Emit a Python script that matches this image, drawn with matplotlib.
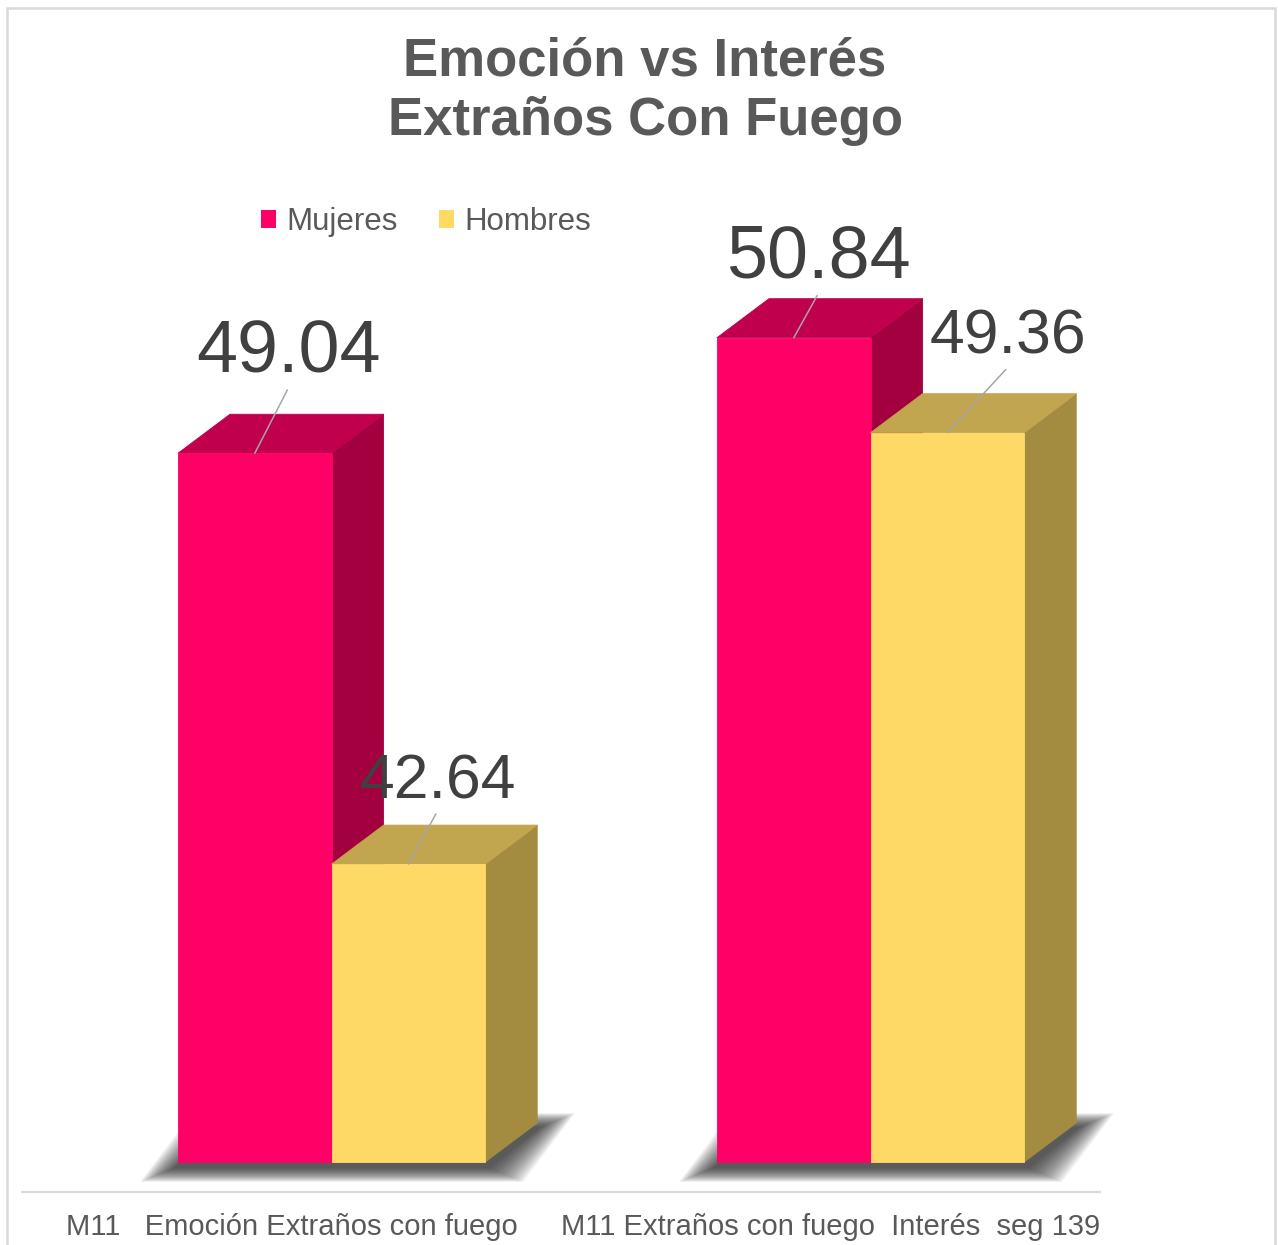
import matplotlib
matplotlib.use("Agg")
import matplotlib.pyplot as plt
import numpy as np
from matplotlib.patches import Polygon, Rectangle

# data
categories = ["M11   Emoción Extraños con fuego", "M11 Extraños con fuego  Interés  seg 139"]
series = ["Mujeres", "Hombres"]
mujeres = [49.04, 50.84]
hombres = [42.64, 49.36]
values = [mujeres, hombres]

# colours: front, top, side
colors = {
    "Mujeres": ("#FF0066", "#C0004D", "#A3003F"),
    "Hombres": ("#FFD966", "#C2A54F", "#A38B40"),
}

plt.rcParams['font.family'] = ['Liberation Sans', 'DejaVu Sans']

W_PX, H_PX = 1278, 1245
fig = plt.figure(figsize=(W_PX / 100, H_PX / 100), dpi=100)

# axes box in pixels (from top-left)
ax_left, ax_right, ax_top, ax_bottom = 22, 1100, 180, 1192
ax = fig.add_axes([ax_left / W_PX, 1 - ax_bottom / H_PX,
                   (ax_right - ax_left) / W_PX, (ax_bottom - ax_top) / H_PX])

floor = 38.0          # value axis minimum where bars stand
px_per_unit = 64.2    # vertical pixels per value unit
floor_px = 1162
ax.set_ylim(floor - (ax_bottom - floor_px) / px_per_unit,
            floor + (floor_px - ax_top) / px_per_unit)
ax.set_xlim(-0.5, 1.5)
XPX = (ax_right - ax_left) / 2.0

def px2x(p):
    return p / XPX

def px2y(p):
    return p / px_per_unit

bar_w = 0.285
shift = 0.0744
DX, DY = px2x(52), px2y(39)

# soft shadow under each pair of bars, built from many faint layers
for i in range(len(categories)):
    left = i + shift - bar_w
    right = i + shift + bar_w
    n = 30
    for t in np.linspace(0, 1, n):
        bx, by = px2x(4 + 34 * t), px2y(1 + 14 * t)
        oy = px2y(5)
        pts = [(left - bx, floor - oy - by),
               (right + bx, floor - oy - by),
               (right + DX + bx, floor + DY - oy + by),
               (left + DX - bx, floor + DY - oy + by)]
        ax.add_patch(Polygon(pts, closed=True, facecolor="#2a2a2a",
                             edgecolor="none", alpha=0.045, zorder=1,
                             clip_on=False))

# 3D bars
label_sizes = {"Mujeres": 53, "Hombres": 45}
label_offsets = {(0, 0): (34, 66), (0, 1): (29, 53),
                 (1, 0): (25, 45), (1, 1): (61, 66)}
for i in range(len(categories)):
    for s, name in enumerate(series):
        v = values[s][i]
        x0 = i + shift - bar_w + s * bar_w
        x1 = x0 + bar_w
        front, top, side = colors[name]
        ax.add_patch(Polygon([(x1, floor), (x1 + DX, floor + DY),
                              (x1 + DX, v + DY), (x1, v)],
                             facecolor=side, edgecolor=side, lw=0.6, zorder=2))
        ax.add_patch(Polygon([(x0, v), (x1, v), (x1 + DX, v + DY), (x0 + DX, v + DY)],
                             facecolor=top, edgecolor=top, lw=0.6, zorder=2))
        ax.add_patch(Polygon([(x0, floor), (x1, floor), (x1, v), (x0, v)],
                             facecolor=front, edgecolor=front, lw=0.6, zorder=2,
                             label=name if i == 0 else None))
        ox, oy = label_offsets[(i, s)]
        ax.annotate(f"{v:.2f}", xy=((x0 + x1) / 2, v), xytext=(ox, oy),
                    textcoords="offset pixels", ha="center", va="bottom",
                    fontsize=label_sizes[name], color="#404040", zorder=5,
                    arrowprops=dict(arrowstyle="-", color="#A6A6A6", lw=1.1,
                                    shrinkA=0, shrinkB=0, relpos=(0.5, 0)))

# axis styling
for sp in ["left", "right", "top"]:
    ax.spines[sp].set_visible(False)
ax.spines["bottom"].set_color("#D9D9D9")
ax.spines["bottom"].set_linewidth(1.6)
ax.set_yticks([])
ax.set_xticks(range(len(categories)))
ax.set_xticklabels(categories, fontsize=21, color="#595959")
ax.tick_params(axis="x", length=0, pad=15)
ax.patch.set_alpha(0)

# legend
leg = ax.legend(loc="center", bbox_to_anchor=(426 / W_PX, 1 - 222 / H_PX),
                bbox_transform=fig.transFigure, ncol=2, frameon=False,
                fontsize=22.5, handlelength=0.5, handleheight=0.5,
                handletextpad=0.33, columnspacing=1.3, labelcolor="#595959")
for h in leg.legend_handles:
    h.set_linewidth(0)

# title
fig.text(645 / W_PX, 1 - 37 / H_PX, "Emoción vs Interés\nExtraños Con Fuego",
         ha="center", va="top", fontsize=38, fontweight="bold",
         color="#595959", linespacing=1.22)

# chart frame
fig.patches.append(Rectangle((7 / W_PX, -0.05), (1275 - 7) / W_PX, 1.05 - 8 / H_PX,
                             transform=fig.transFigure, fill=False,
                             edgecolor="#D9D9D9", linewidth=1.8, zorder=0))

fig.savefig("out.png", dpi=100)
